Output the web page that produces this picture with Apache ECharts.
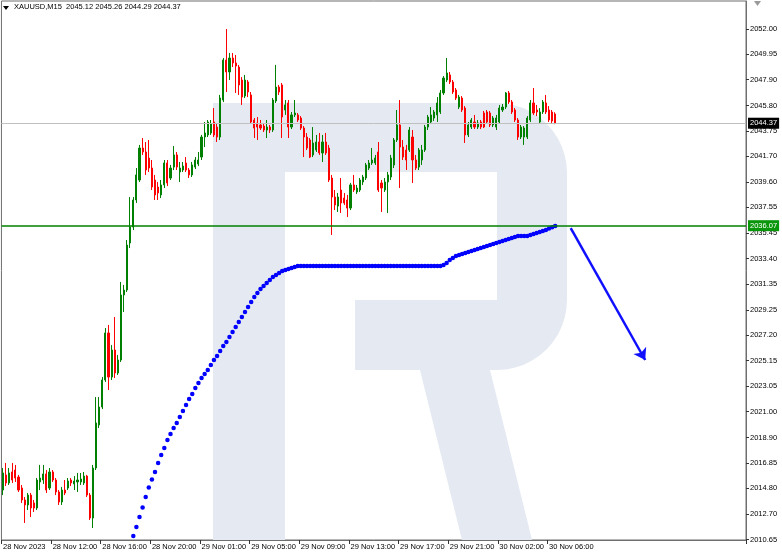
<!DOCTYPE html>
<html><head><meta charset="utf-8">
<script src="https://cdn.jsdelivr.net/npm/echarts/dist/echarts.min.js"></script>
<style>html,body{margin:0;padding:0;background:#fff;}#c{width:782px;height:558px;}</style>
</head><body><div id="c"></div>
<script>
const symbolName = 'XAUUSD,M15';
const barSlots = 240;
const xTickLabels = ['28 Nov 2023','28 Nov 12:00','28 Nov 16:00','28 Nov 20:00','29 Nov 01:00','29 Nov 05:00','29 Nov 09:00','29 Nov 13:00','29 Nov 17:00','29 Nov 21:00','30 Nov 02:00','30 Nov 06:00'];
const barsPerLabel = 16;
const yTickLabels = ['2010.65','2012.70','2014.80','2016.85','2018.90','2021.00','2023.05','2025.15','2027.20','2029.25','2031.35','2033.40','2035.45','2037.55','2039.60','2041.70','2043.75','2045.80','2047.90','2049.95','2052.00'];

const open = [2014.66,2015.88,2015.23,2016.12,2016.28,2015.71,2014.82,2013.85,2013.45,2014.25,
2013.61,2013.20,2015.31,2015.47,2015.96,2014.82,2016.12,2015.47,2014.50,2013.69,
2014.66,2014.82,2015.47,2015.15,2015.31,2015.31,2015.23,2015.79,2014.25,2012.39,
2016.44,2019.93,2021.38,2023.57,2027.38,2023.81,2026.00,2024.14,2025.19,2030.46,
2030.86,2034.67,2035.96,2038.15,2039.77,2042.36,2042.04,2041.55,2040.74,2039.77,
2039.20,2038.56,2039.37,2041.15,2039.93,2040.82,2041.80,2040.42,2040.58,2041.15,
2040.58,2040.18,2040.82,2041.07,2041.63,2043.25,2043.42,2043.58,2044.47,2044.06,
2043.25,2046.25,2049.49,2048.52,2049.65,2049.25,2048.92,2047.87,2046.57,2047.71,
2046.66,2044.63,2044.39,2044.23,2044.14,2043.82,2044.06,2043.82,2046.17,2047.30,
2047.47,2045.44,2046.01,2044.06,2045.04,2045.04,2044.79,2043.98,2043.25,2043.01,
2041.80,2042.20,2042.85,2041.96,2042.85,2042.36,2039.93,2038.39,2037.66,2038.96,
2038.31,2038.15,2037.50,2039.37,2038.80,2038.96,2039.61,2039.93,2040.74,2041.15,
2041.15,2042.04,2039.53,2038.96,2039.61,2040.01,2040.99,2043.01,2044.23,2042.44,
2042.20,2042.20,2043.25,2041.39,2040.82,2041.39,2042.20,2044.06,2044.47,2044.79,
2045.04,2045.28,2046.82,2047.87,2048.28,2047.71,2047.06,2045.68,2046.41,2045.60,
2043.42,2044.06,2044.47,2044.06,2044.47,2045.20,2045.28,2045.20,2044.23,2044.06,
2044.47,2045.44,2045.68,2046.82,2046.09,2045.44,2044.63,2043.25,2043.25,2043.25,
2044.63,2046.01,2045.44,2044.47,2045.28,2046.01,2045.44,2045.28,2045.12];

const high = [2016.44,2016.85,2016.44,2016.85,2016.69,2015.88,2015.07,2014.09,2014.42,2014.42,
2013.85,2015.63,2016.69,2016.69,2016.28,2016.44,2016.28,2015.63,2014.66,2014.90,
2015.47,2015.63,2015.63,2015.79,2016.04,2016.04,2016.12,2015.88,2014.42,2016.69,
2022.19,2022.19,2023.81,2027.78,2028.03,2026.40,2028.67,2025.59,2031.51,2031.27,
2034.91,2038.39,2038.39,2040.74,2042.61,2043.17,2042.85,2043.01,2041.39,2040.18,
2039.61,2039.77,2041.39,2041.39,2040.99,2042.52,2042.04,2041.23,2041.23,2041.63,
2040.74,2041.23,2041.63,2042.04,2043.42,2044.47,2044.63,2044.63,2045.60,2044.31,
2046.66,2049.65,2052.00,2050.06,2050.06,2049.90,2049.09,2048.11,2048.28,2047.87,
2046.90,2044.79,2044.87,2044.63,2044.39,2044.63,2044.23,2046.41,2049.09,2047.47,
2047.63,2046.25,2046.25,2045.28,2046.25,2045.20,2044.95,2044.14,2043.58,2043.17,
2044.06,2043.42,2043.58,2043.42,2043.58,2042.61,2040.18,2038.96,2038.72,2039.93,
2038.72,2038.56,2039.53,2040.18,2039.37,2039.93,2040.18,2041.15,2041.39,2042.36,
2041.80,2042.85,2039.77,2039.93,2040.42,2041.80,2043.17,2045.44,2046.25,2043.01,
2042.61,2044.06,2043.82,2041.80,2042.36,2042.61,2044.23,2045.04,2045.68,2045.44,
2046.49,2047.06,2048.19,2049.65,2048.52,2047.87,2047.22,2046.66,2046.57,2045.76,
2044.47,2044.79,2045.04,2044.63,2044.63,2045.36,2045.44,2045.36,2044.95,2045.04,
2045.85,2045.93,2046.90,2046.98,2046.25,2045.60,2044.79,2044.23,2044.14,2044.95,
2046.25,2047.22,2045.85,2045.60,2046.25,2046.66,2045.76,2045.44,2045.26];

const low = [2014.25,2014.98,2015.07,2015.23,2015.31,2014.50,2013.61,2011.99,2013.04,2012.47,
2012.88,2013.04,2014.66,2015.15,2014.42,2014.66,2015.31,2014.25,2013.45,2013.45,
2014.25,2014.66,2014.98,2014.66,2014.50,2015.07,2015.07,2014.09,2012.23,2011.58,
2016.28,2019.68,2021.22,2023.41,2022.76,2023.57,2023.73,2023.98,2025.03,2029.08,
2030.70,2034.26,2035.72,2037.91,2039.61,2041.80,2040.18,2040.42,2038.96,2038.15,
2038.15,2038.31,2039.12,2039.28,2039.77,2040.58,2040.58,2039.61,2040.42,2040.42,
2039.93,2040.01,2040.66,2040.90,2041.39,2042.44,2043.25,2043.42,2043.25,2042.85,
2043.01,2046.09,2046.90,2047.87,2048.92,2046.82,2046.66,2045.85,2046.41,2046.49,
2044.31,2043.17,2043.01,2043.82,2043.66,2043.17,2043.58,2043.66,2046.01,2046.66,
2043.17,2045.04,2043.17,2043.90,2044.87,2044.47,2043.82,2041.63,2042.20,2041.55,
2041.63,2042.04,2041.80,2041.23,2041.80,2039.61,2035.32,2037.34,2037.18,2037.10,
2037.75,2036.77,2037.34,2038.80,2038.64,2038.80,2039.37,2039.77,2040.58,2040.99,
2040.99,2038.80,2037.18,2038.80,2037.10,2039.77,2040.74,2042.85,2039.12,2041.39,
2040.58,2042.04,2039.53,2040.58,2040.58,2040.99,2042.04,2043.82,2044.31,2044.55,
2044.47,2045.12,2046.66,2047.71,2047.55,2046.74,2046.25,2045.52,2045.28,2042.77,
2043.25,2043.90,2043.90,2043.90,2043.90,2043.98,2044.31,2044.06,2044.06,2043.82,
2044.31,2045.28,2045.52,2045.93,2045.12,2044.47,2043.01,2043.09,2042.61,2043.09,
2044.47,2045.04,2044.95,2044.31,2045.12,2045.12,2044.47,2044.39,2044.29];

const close = [2016.04,2015.23,2016.04,2015.47,2015.63,2014.66,2013.85,2013.45,2014.25,2013.20,
2013.20,2015.47,2015.63,2015.96,2014.66,2016.12,2015.47,2014.50,2013.69,2014.66,
2014.42,2015.39,2015.23,2015.39,2015.47,2015.55,2015.79,2014.25,2012.39,2016.44,
2020.09,2021.38,2023.57,2027.38,2023.81,2026.00,2024.14,2025.19,2030.46,2030.86,
2034.50,2035.96,2038.15,2040.18,2042.36,2042.04,2040.58,2040.74,2039.20,2038.56,
2038.72,2039.37,2041.15,2039.53,2040.74,2041.80,2040.82,2040.74,2040.90,2040.58,
2040.18,2040.99,2041.39,2041.39,2043.25,2043.58,2044.47,2044.31,2043.42,2043.25,
2046.41,2049.49,2048.52,2049.65,2049.25,2049.00,2047.47,2046.49,2047.87,2046.90,
2044.47,2043.98,2044.06,2043.98,2043.82,2044.06,2043.82,2046.25,2047.30,2046.90,
2044.87,2045.85,2044.06,2045.04,2045.20,2044.63,2043.98,2043.25,2042.36,2041.63,
2042.77,2042.85,2041.96,2042.85,2041.96,2039.77,2038.39,2037.75,2038.39,2037.91,
2037.91,2037.50,2039.37,2038.96,2039.12,2039.77,2040.01,2040.99,2041.15,2041.39,
2041.55,2038.96,2039.12,2039.61,2040.18,2041.55,2043.01,2044.23,2042.44,2041.63,
2041.39,2043.82,2041.39,2040.74,2042.20,2042.20,2044.06,2044.87,2045.04,2045.28,
2046.01,2046.82,2048.03,2048.44,2047.71,2046.90,2046.41,2046.49,2045.44,2043.42,
2044.23,2044.63,2044.06,2044.39,2044.06,2044.06,2044.47,2044.23,2044.79,2044.79,
2045.60,2045.68,2046.82,2046.09,2045.28,2044.63,2043.25,2044.06,2043.98,2044.79,
2046.01,2045.20,2045.28,2045.28,2046.09,2045.28,2044.63,2044.55,2044.37];

// blue dotted moving average, visible from bar 42 onward
const maFirstBar = 42;
const maValues = [2010.93,2011.66,2012.47,2013.24,2014.09,2014.86,2015.51,2016.12,2016.85,2017.50,
2018.06,2018.71,2019.20,2019.68,2020.09,2020.57,2021.06,2021.55,2022.03,2022.44,
2022.92,2023.33,2023.73,2024.06,2024.38,2024.79,2025.19,2025.51,2025.92,2026.32,
2026.65,2027.05,2027.46,2027.86,2028.27,2028.67,2029.08,2029.48,2029.89,2030.29,
2030.62,2030.94,2031.18,2031.43,2031.67,2031.91,2032.08,2032.24,2032.40,2032.48,
2032.56,2032.64,2032.72,2032.80,2032.80,2032.80,2032.80,2032.80,2032.80,2032.80,
2032.80,2032.80,2032.80,2032.80,2032.80,2032.80,2032.80,2032.80,2032.80,2032.80,
2032.80,2032.80,2032.80,2032.80,2032.80,2032.80,2032.80,2032.80,2032.80,2032.80,
2032.80,2032.80,2032.80,2032.80,2032.80,2032.80,2032.80,2032.80,2032.80,2032.80,
2032.80,2032.80,2032.80,2032.80,2032.80,2032.80,2032.80,2032.80,2032.80,2032.80,
2032.89,2033.05,2033.29,2033.45,2033.61,2033.69,2033.78,2033.86,2033.94,2034.02,
2034.10,2034.18,2034.26,2034.34,2034.42,2034.50,2034.59,2034.67,2034.75,2034.83,
2034.91,2034.99,2035.07,2035.15,2035.23,2035.23,2035.23,2035.23,2035.32,2035.40,
2035.48,2035.56,2035.64,2035.72,2035.85,2035.95,2036.05];

const currentPrice = 2044.37;
const levelPrice = 2036.07;
const arrowFrom = [183, 2035.88];
const arrowTo = [207, 2025.19];
const yMin = 2010.61, yMax = 2054.27;

// ---- build ----
const categories = [];
const labelAt = {};
for (let i = 0; i < barSlots; i++) categories.push('b' + i);
xTickLabels.forEach((t, k) => { labelAt[k * barsPerLabel] = t; });
const candleData = open.map((o, i) => [o, close[i], low[i], high[i]]);
const maData = categories.map((c, i) => (i >= maFirstBar && i - maFirstBar < maValues.length) ? maValues[i - maFirstBar] : null);
const yTickValues = yTickLabels.map(Number);
const last = open.length - 1;
const header = symbolName + '  ' + [open[last], high[last], low[last], close[last]].map(v => v.toFixed(2)).join(' ');

// watermark helper: arc points
function arcPts(cx, cy, r, a0, a1, n) {
  const p = [];
  for (let k = 0; k <= n; k++) { const a = a0 + (a1 - a0) * k / n; p.push([cx + r * Math.cos(a), cy + r * Math.sin(a)]); }
  return p;
}
const bowl = [[497, 103]].concat(arcPts(497, 173, 70, -Math.PI / 2, 0, 12))
  .concat([[567, 300]]).concat(arcPts(497, 300, 70, 0, Math.PI / 2, 12))
  .concat([[355, 370], [355, 300], [497, 300], [497, 172]]);

const FONT = 'Liberation Sans';
const wm = '#e4e9f2';
const chart = echarts.init(document.getElementById('c'), null, {renderer: 'canvas'});
chart.setOption({
  animation: false,
  backgroundColor: '#ffffff',
  grid: {left: 1, right: 36, top: 1, bottom: 18, show: true, borderColor: '#6e6e6e', borderWidth: 1, backgroundColor: 'transparent'},
  graphic: [
    {type: 'group', z: -10, silent: true, children: [
      {type: 'rect', shape: {x: 213, y: 103, width: 72, height: 437}, style: {fill: wm}},
      {type: 'rect', shape: {x: 213, y: 103, width: 284, height: 69}, style: {fill: wm}},
      {type: 'polygon', shape: {points: bowl}, style: {fill: wm}},
      {type: 'polygon', shape: {points: [[420,370],[490,370],[532,540],[462,540]]}, style: {fill: wm}}
    ]},
    {type: 'polygon', shape: {points: [[3,6],[9,6],[6,10]]}, style: {fill: '#000'}},
    {type: 'text', left: 14, top: 3, style: {text: header, font: '7.5px "' + FONT + '"', fill: '#000'}},
    {type: 'polygon', shape: {points: [[754,1],[761,1],[757.5,6]]}, style: {fill: '#9a9a9a'}}
  ],
  xAxis: {
    type: 'category', data: categories, boundaryGap: true,
    axisLine: {show: true, lineStyle: {color: '#6e6e6e', width: 1}},
    axisTick: {show: true, length: 4, interval: (i) => labelAt[i] !== undefined, lineStyle: {color: '#333'}},
    axisLabel: {interval: (i) => labelAt[i] !== undefined, formatter: (v, i) => labelAt[i] || '', align: 'left', margin: 3, fontSize: 7.5, fontFamily: FONT, color: '#000'},
    splitLine: {show: false}
  },
  yAxis: {
    type: 'value', position: 'right', min: yMin, max: yMax, scale: true,
    axisLine: {show: true, lineStyle: {color: '#6e6e6e', width: 1}},
    axisTick: {show: true, length: 3, customValues: yTickValues, lineStyle: {color: '#333'}},
    axisLabel: {customValues: yTickValues, formatter: (v) => { const k = yTickValues.findIndex(t => Math.abs(t - v) < 1e-6); return k >= 0 ? yTickLabels[k] : ''; }, margin: 4, fontSize: 7.5, fontFamily: FONT, color: '#000'},
    splitLine: {show: false}
  },
  series: [
    {
      type: 'candlestick', data: candleData, barWidth: 1.6,
      itemStyle: {color: '#008000', color0: '#ff0000', borderColor: '#008000', borderColor0: '#ff0000', borderWidth: 1},
      markLine: {
        silent: true, symbol: 'none', animation: false,
        data: [
          {yAxis: currentPrice, lineStyle: {color: '#c0c0c0', width: 1, type: 'solid'},
           label: {show: true, position: 'end', distance: 2, formatter: currentPrice.toFixed(2), color: '#fff', backgroundColor: '#000', padding: [2, 2, 1, 2], fontSize: 7.5, fontFamily: FONT}},
          {yAxis: levelPrice, lineStyle: {color: '#008000', width: 1.5, type: 'solid'},
           label: {show: true, position: 'end', distance: 2, formatter: levelPrice.toFixed(2), color: '#fff', backgroundColor: '#0a960a', padding: [2, 2, 1, 2], fontSize: 7.5, fontFamily: FONT}}
        ]
      }
    },
    {
      type: 'line', data: maData, showSymbol: true, showAllSymbol: true, symbol: 'circle', symbolSize: 4.5,
      itemStyle: {color: '#0000ff'}, lineStyle: {width: 0, opacity: 0}, connectNulls: false,
      markLine: {
        silent: true, symbol: ['none', 'arrow'], symbolSize: 11, animation: false,
        lineStyle: {color: '#1010ff', width: 2.5, type: 'solid'}, label: {show: false},
        data: [[{coord: arrowFrom}, {coord: arrowTo}]]
      }
    }
  ]
});
</script></body></html>
